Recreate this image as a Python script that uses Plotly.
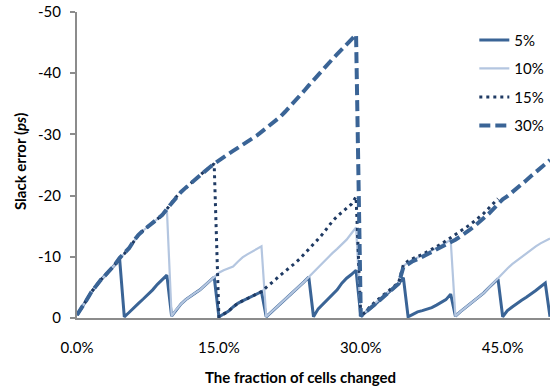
import plotly.graph_objects as go

x_pct = [0.0, 0.5, 1.0, 1.5, 2.0, 2.5, 3.0, 3.5, 4.0, 4.5,
         5.0, 5.5, 6.0, 6.5, 7.0, 7.5, 8.0, 8.5, 9.0, 9.5,
         10.0, 10.5, 11.0, 11.5, 12.0, 12.5, 13.0, 13.5, 14.0, 14.5,
         15.0, 15.5, 16.0, 16.5, 17.0, 17.5, 18.0, 18.5, 19.0, 19.5,
         20.0, 20.5, 21.0, 21.5, 22.0, 22.5, 23.0, 23.5, 24.0, 24.5,
         25.0, 25.5, 26.0, 26.5, 27.0, 27.5, 28.0, 28.5, 29.0, 29.5,
         30.0, 30.5, 31.0, 31.5, 32.0, 32.5, 33.0, 33.5, 34.0, 34.5,
         35.0, 35.5, 36.0, 36.5, 37.0, 37.5, 38.0, 38.5, 39.0, 39.5,
         40.0, 40.5, 41.0, 41.5, 42.0, 42.5, 43.0, 43.5, 44.0, 44.5,
         45.0, 45.5, 46.0, 46.5, 47.0, 47.5, 48.0, 48.5, 49.0, 49.5, 50.0]

s5 = [-0.5, -1.6, -2.9, -4.2, -5.3, -6.2, -7.0, -7.8, -8.7, -9.8,
      -0.2, -0.9, -1.7, -2.4, -3.1, -3.8, -4.6, -5.5, -6.2, -7.0,
      -0.3, -1.4, -2.3, -3.0, -3.6, -4.1, -4.6, -5.3, -6.0, -6.7,
      -0.2, -0.6, -1.1, -1.8, -2.4, -2.8, -3.2, -3.6, -3.9, -4.3,
      -0.2, -0.9, -1.7, -2.4, -3.1, -3.8, -4.5, -5.2, -5.9, -6.7,
      -0.2, -1.5, -2.3, -3.1, -3.8, -4.6, -5.7, -6.5, -7.1, -7.8,
      -0.3, -0.9, -1.6, -2.2, -2.9, -3.6, -4.2, -4.9, -5.6, -6.6,
      -0.2, -0.6, -1.0, -1.2, -1.4, -1.7, -2.1, -2.5, -3.0, -3.9,
      -0.3, -1.0, -1.6, -2.2, -2.8, -3.4, -4.1, -4.9, -5.7, -6.4,
      -0.2, -1.2, -1.8, -2.4, -2.9, -3.4, -3.9, -4.5, -5.1, -5.7, -0.2]

s10 = [-0.5, -1.6, -2.9, -4.2, -5.3, -6.2, -7.0, -7.8, -8.7, -9.8,
       -10.5, -11.4, -12.6, -13.6, -14.3, -14.9, -15.5, -16.1, -16.8, -17.8,
       -0.3, -1.4, -2.3, -3.0, -3.6, -4.1, -4.6, -5.3, -6.0, -6.7,
       -7.4, -7.8, -8.1, -8.4, -9.2, -9.9, -10.4, -10.8, -11.2, -11.7,
       -0.2, -0.9, -1.7, -2.4, -3.1, -3.8, -4.5, -5.2, -5.9, -6.7,
       -7.5, -8.3, -9.0, -9.8, -10.6, -11.3, -12.0, -12.8, -13.8, -14.8,
       -0.3, -1.0, -1.8, -2.5, -3.1, -3.8, -4.4, -5.0, -5.7, -8.5,
       -9.1, -9.5, -9.8, -10.2, -10.6, -11.0, -11.4, -11.8, -12.3, -12.8,
       -0.3, -1.0, -1.6, -2.2, -2.8, -3.4, -4.1, -4.9, -5.7, -6.6,
       -7.4, -8.1, -8.8, -9.4, -10.0, -10.6, -11.2, -11.7, -12.2, -12.6, -13.0]

s15 = [-0.5, -1.6, -2.9, -4.2, -5.3, -6.2, -7.0, -7.8, -8.7, -9.8,
       -10.5, -11.4, -12.6, -13.6, -14.3, -14.9, -15.5, -16.1, -16.8, -17.8,
       -18.8, -19.8, -20.6, -21.3, -22.0, -22.7, -23.4, -24.0, -24.6, -25.2,
       -0.2, -0.6, -1.1, -1.8, -2.4, -2.8, -3.2, -3.6, -3.9, -4.3,
       -5.0, -5.6, -6.3, -7.0, -7.6, -8.2, -8.9, -9.6, -10.4, -11.2,
       -12.0, -12.9, -13.8, -14.8, -15.8, -16.6, -17.3, -18.0, -18.6, -19.8,
       -0.3, -1.0, -1.9, -2.6, -3.3, -3.9, -4.5, -5.1, -5.8, -8.7,
       -9.3, -9.7, -10.0, -10.4, -10.8, -11.2, -11.6, -12.1, -12.6, -13.1,
       -13.6, -14.1, -14.6, -15.2, -15.8, -16.4, -17.1, -17.9, -18.7, -19.5,
       None, None, None, None, None, None, None, None, None, None, None]

s30 = [-0.5, -1.6, -2.9, -4.2, -5.3, -6.2, -7.0, -7.8, -8.7, -9.8,
       -10.5, -11.4, -12.6, -13.6, -14.3, -14.9, -15.5, -16.1, -16.8, -17.8,
       -18.8, -19.8, -20.6, -21.3, -22.0, -22.7, -23.4, -24.0, -24.6, -25.2,
       -25.8, -26.3, -26.8, -27.3, -27.8, -28.3, -28.7, -29.2, -29.8, -30.4,
       -31.0, -31.6, -32.2, -32.9, -33.7, -34.5, -35.3, -36.2, -37.1, -38.0,
       -38.9, -39.8, -40.6, -41.4, -42.3, -43.1, -43.9, -44.8, -45.6, -46.3,
       -0.3, -0.9, -1.6, -2.2, -2.9, -3.6, -4.2, -4.9, -5.6, -8.3,
       -8.9, -9.3, -9.6, -10.0, -10.3, -10.7, -11.1, -11.5, -11.9, -12.3,
       -12.8, -13.3, -13.8, -14.4, -15.0, -15.6, -16.3, -17.0, -17.8, -18.6,
       -19.4, -19.9, -20.5, -21.1, -21.8, -22.5, -23.2, -23.9, -24.6, -25.2, -25.8]

series_names = ["5%", "10%", "15%", "30%"]
x_tick_vals = [0, 15, 30, 45]
x_tick_text = ["0.0%", "15.0%", "30.0%", "45.0%"]
y_tick_vals = [0, -10, -20, -30, -40, -50]
y_tick_text = ["0", "-10", "-20", "-30", "-40", "-50"]

FONT = "Lato"
styles = [
    dict(color="#3A6496", width=3, dash="solid"),
    dict(color="#B4C6E0", width=2.2, dash="solid"),
    dict(color="#1F3A63", width=3, dash="3px,4px"),
    dict(color="#3A6496", width=4, dash="11px,5px"),
]

fig = go.Figure()
for i, (name, ys) in enumerate(zip(series_names, [s5, s10, s15, s30])):
    fig.add_trace(go.Scatter(
        x=x_pct, y=ys, mode="lines", name=name,
        line=styles[i], legendgroup=name, connectgaps=False,
    ))

fig.update_layout(
    width=550, height=389,
    margin=dict(l=77, r=0, t=12, b=71),
    paper_bgcolor="white", plot_bgcolor="white",
    font=dict(family=FONT, size=15, color="#000000"),
    showlegend=True,
    legend=dict(x=0.84, y=0.962, xanchor="left", yanchor="top",
                font=dict(family=FONT, size=15, color="#000000"),
                tracegroupgap=6, bgcolor="rgba(0,0,0,0)"),
    xaxis=dict(range=[0, 50], tickvals=x_tick_vals, ticktext=x_tick_text,
               showgrid=False, zeroline=False, showline=True,
               linecolor="#8C8C8C", linewidth=2, ticks="",
               ticklabelstandoff=15, tickfont=dict(size=15)),
    yaxis=dict(range=[0, -50], tickvals=y_tick_vals, ticktext=y_tick_text,
               showgrid=False, zeroline=False, showline=True,
               linecolor="#8C8C8C", linewidth=2, ticks="outside",
               ticklen=5, tickcolor="#8C8C8C", tickwidth=1.5,
               ticklabelstandoff=6, tickfont=dict(size=15)),
    annotations=[
        dict(text="<b>The fraction of cells changed</b>", xref="paper", yref="paper",
             x=(300 - 77) / 473, y=-(377 - 318) / 306, xanchor="center", yanchor="middle",
             showarrow=False, font=dict(family=FONT, size=15, color="#000000")),
        dict(text="<b>Slack error (<i>ps</i>)</b>", xref="paper", yref="paper",
             x=-(77 - 20) / 473, y=(318 - 162) / 306, xanchor="center", yanchor="middle",
             textangle=-90, showarrow=False,
             font=dict(family=FONT, size=15, color="#000000")),
    ],
)

fig.write_html("out.html")
